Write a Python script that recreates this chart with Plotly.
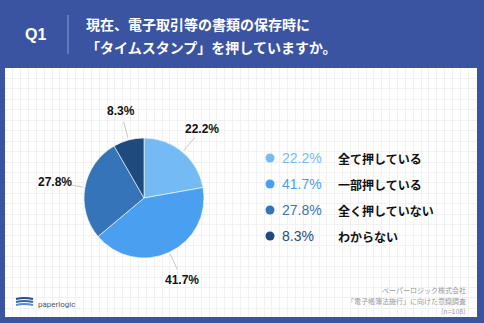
import math
import plotly.graph_objects as go

W, H = 484, 323

# ---- data ----
categories = ["全て押している", "一部押している", "全く押していない", "わからない"]
values = [22.2, 41.7, 27.8, 8.3]
pct_labels = ["22.2%", "41.7%", "27.8%", "8.3%"]
colors = ["#74BBF6", "#4A9FF0", "#3574B9", "#1F4A7E"]

title_q = "Q1"
title_lines = ["現在、電子取引等の書類の保存時に", "「タイムスタンプ」を押していますか。"]
footer_lines = ["ペーパーロジック株式会社", "「電子帳簿法施行」に向けた意識調査", "(n=108)"]

BG = "#3A54A2"
FONT = "Noto Sans CJK JP"
NUMFONT = "Liberation Sans"

# panel (pixel coords)
PX0, PX1, PY0, PY1 = 5, 477, 68, 317
# pie geometry (pixel coords)
CX, CY, R = 144, 198, 60

def px(x):
    return x / W

def py(y):
    return 1 - y / H

fig = go.Figure()

# hidden pixel-coordinate axes used for panel + grid
fig.add_trace(go.Scatter(x=[], y=[], showlegend=False))

fig.add_trace(go.Pie(
    values=values,
    labels=categories,
    sort=False,
    direction="clockwise",
    rotation=0,
    textinfo="none",
    hoverinfo="label+percent",
    marker=dict(colors=colors, line=dict(color="white", width=0.6)),
    domain=dict(x=[px(CX - R), px(CX + R)], y=[py(CY + R), py(CY - R)]),
    showlegend=False,
))

# legend markers as scatter in pixel coords
leg_y0, leg_dy = 158, 26
leg_ys = [leg_y0 + i * leg_dy for i in range(len(values))]
fig.add_trace(go.Scatter(
    x=[270] * len(values), y=leg_ys, mode="markers",
    marker=dict(size=9, color=colors), showlegend=False, hoverinfo="skip",
))

annotations = []
shapes = []

# pie labels with leader lines
total = sum(values)
cum = 0
for v, lab in zip(values, pct_labels):
    mid = (cum + v / 2) / total * 2 * math.pi
    cum += v
    sx, sy = math.sin(mid), -math.cos(mid)
    shapes.append(dict(type="line", xref="x", yref="y",
                       x0=CX + sx * 62, y0=CY + sy * 62,
                       x1=CX + sx * 79, y1=CY + sy * 79,
                       line=dict(color="#C8C8C8", width=1)))
    annotations.append(dict(x=CX + sx * 90, y=CY + sy * 90, xref="x", yref="y",
                            text=f"<b>{lab}</b>", showarrow=False,
                            font=dict(family=NUMFONT, size=12, color="#111111"),
                            xanchor="center", yanchor="middle"))

# legend texts
for yv, lab, cat, col in zip(leg_ys, pct_labels, categories, colors):
    annotations.append(dict(x=280, y=yv, xref="x", yref="y", text=lab, showarrow=False,
                            font=dict(family=NUMFONT, size=14, color=col),
                            xanchor="left", yanchor="middle"))
    annotations.append(dict(x=336, y=yv, xref="x", yref="y", text=f"<b>{cat}</b>",
                            showarrow=False,
                            font=dict(family=FONT, size=12, color="#111111"),
                            xanchor="left", yanchor="middle"))

# header
annotations.append(dict(x=px(35), y=py(34), xref="paper", yref="paper",
                        text=f"<b>{title_q}</b>", showarrow=False,
                        font=dict(family=NUMFONT, size=16, color="white"),
                        xanchor="center", yanchor="middle"))
for i, t in enumerate(title_lines):
    annotations.append(dict(x=px(84), y=py(24 + i * 23), xref="paper", yref="paper",
                            text=f"<b>{t}</b>", showarrow=False,
                            font=dict(family=FONT, size=14, color="white"),
                            xanchor="left", yanchor="middle"))
shapes.append(dict(type="line", xref="paper", yref="paper",
                   x0=px(68), x1=px(68), y0=py(15), y1=py(54),
                   line=dict(color="#8C9CD2", width=1)))

# footer right
for i, t in enumerate(footer_lines):
    annotations.append(dict(x=px(468), y=py(290 + i * 10.5), xref="paper", yref="paper",
                            text=t, showarrow=False,
                            font=dict(family=FONT, size=7, color="#9A9A9A"),
                            xanchor="right", yanchor="middle"))

# logo
annotations.append(dict(x=px(36), y=py(304), xref="paper", yref="paper",
                        text="paperlogic", showarrow=False,
                        font=dict(family="Roboto", size=8, color="#555555"),
                        xanchor="left", yanchor="middle"))
for i, c in enumerate(["#2B4A8A", "#3A64B0", "#5A8AD0"]):
    yy = 299 + i * 3
    shapes.append(dict(type="path", xref="x", yref="y",
                       path=f"M 16 {yy} Q 24 {yy - 2} 33 {yy}",
                       line=dict(color=c, width=2)))

fig.update_layout(
    width=W, height=H,
    margin=dict(l=0, r=0, t=0, b=0),
    paper_bgcolor=BG,
    plot_bgcolor="white",
    xaxis=dict(domain=[px(PX0), px(PX1)], range=[PX0, PX1], showgrid=True,
               gridcolor="#F1F1F4", gridwidth=1, tick0=PX0, dtick=7.85,
               showticklabels=False, zeroline=False, showline=False, ticks="",
               fixedrange=True),
    yaxis=dict(domain=[py(PY1), py(PY0)], range=[PY1, PY0], showgrid=True,
               gridcolor="#F1F1F4", gridwidth=1, tick0=PY0, dtick=10.45,
               showticklabels=False, zeroline=False, showline=False, ticks="",
               fixedrange=True),
    annotations=annotations,
    shapes=shapes,
    showlegend=False,
)

fig.write_html("out.html")
